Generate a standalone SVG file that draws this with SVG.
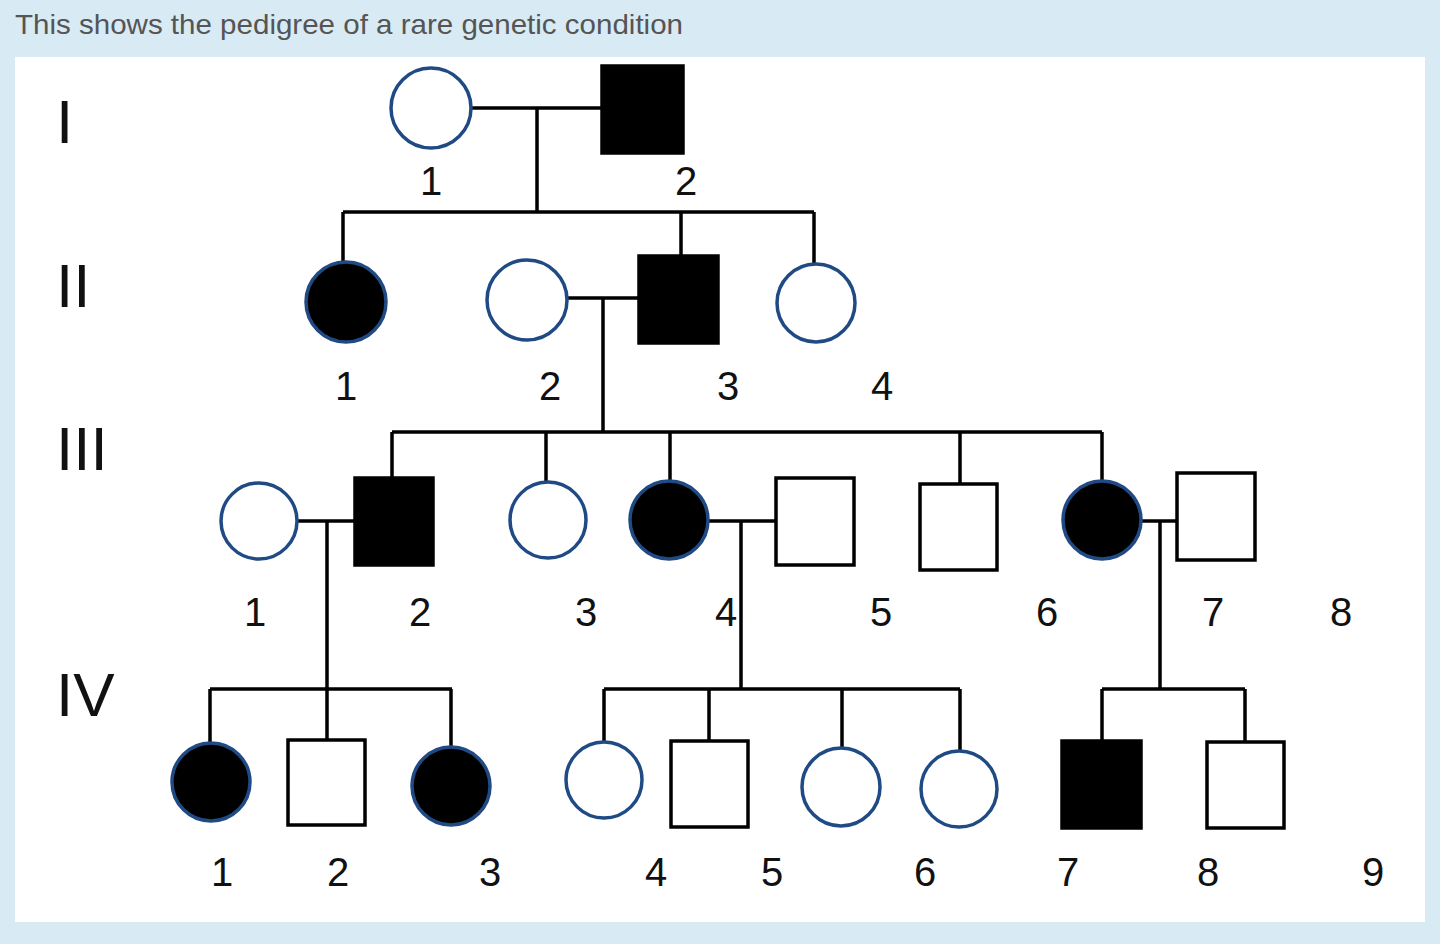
<svg xmlns="http://www.w3.org/2000/svg" width="1440" height="944" viewBox="0 0 1440 944">
<style>
.c{fill:#fff;stroke:#1f4a84;stroke-width:3.5}
.cf{fill:#000;stroke:#1f4a84;stroke-width:3.5}
.s{fill:#fff;stroke:#000;stroke-width:3.5}
.sf{fill:#000;stroke:#000;stroke-width:3.5}
.l{stroke:#000;stroke-width:3.5;fill:none}
text{font-family:"Liberation Sans",Arial,sans-serif}
.n{font-size:40px;text-anchor:middle;fill:#111}
.g{font-size:62px;fill:#111}
</style>
<rect width="1440" height="944" fill="#d8eaf4"/>
<rect x="15" y="57" width="1410" height="865" fill="#fff"/>
<text x="15" y="34" font-size="28" fill="#555" textLength="668" lengthAdjust="spacingAndGlyphs">This shows the pedigree of a rare genetic condition</text>
<text class="g" x="56" y="143">I</text>
<text class="g" x="56" y="307">II</text>
<text class="g" x="56" y="470">III</text>
<text class="g" x="56" y="716">IV</text>
<g id="connectors">
<path class="l" d="M471 108H602M537 108V212M343 212H814M343 212V262M681 212V256M814 212V264M567 298H639M603 298V432M392 432H1102M392 432V478M546 432V482M670 432V481M960 432V484M1102 432V481M297 521H355M327 521V689M708 521H776M741 521V689M1141 521H1177M1160 521V689M210 689H452M210 689V743M327 689V740M451 689V747M604 689H960M604 689V742M709 689V741M842 689V748M960 689V750M1102 689H1245M1102 689V741M1245 689V742"/>
</g>
<g id="I-1"><circle class="c" cx="431" cy="108" r="40"/><text class="n" x="431" y="195">1</text></g>
<g id="I-2"><rect class="sf" x="602" y="66" width="81" height="87"/><text class="n" x="686" y="195">2</text></g>
<g id="II-1"><circle class="cf" cx="346" cy="302" r="40"/><text class="n" x="346" y="400">1</text></g>
<g id="II-2"><circle class="c" cx="527" cy="300" r="40"/><text class="n" x="550" y="400">2</text></g>
<g id="II-3"><rect class="sf" x="639" y="256" width="79" height="87"/><text class="n" x="728" y="400">3</text></g>
<g id="II-4"><circle class="c" cx="816" cy="303" r="39"/><text class="n" x="882" y="400">4</text></g>
<g id="III-1"><circle class="c" cx="259" cy="521" r="38"/><text class="n" x="255" y="626">1</text></g>
<g id="III-2"><rect class="sf" x="355" y="478" width="78" height="87"/><text class="n" x="420" y="626">2</text></g>
<g id="III-3"><circle class="c" cx="548" cy="520" r="38"/><text class="n" x="586" y="626">3</text></g>
<g id="III-4"><circle class="cf" cx="669" cy="520" r="39"/><text class="n" x="726" y="626">4</text></g>
<g id="III-5"><rect class="s" x="776" y="478" width="78" height="87"/><text class="n" x="881" y="626">5</text></g>
<g id="III-6"><rect class="s" x="920" y="484" width="77" height="86"/><text class="n" x="1047" y="626">6</text></g>
<g id="III-7"><circle class="cf" cx="1102" cy="520" r="39"/><text class="n" x="1213" y="626">7</text></g>
<g id="III-8"><rect class="s" x="1177" y="473" width="78" height="87"/><text class="n" x="1341" y="626">8</text></g>
<g id="IV-1"><circle class="cf" cx="211" cy="782" r="39"/><text class="n" x="222" y="886">1</text></g>
<g id="IV-2"><rect class="s" x="288" y="740" width="77" height="85"/><text class="n" x="338" y="886">2</text></g>
<g id="IV-3"><circle class="cf" cx="451" cy="786" r="39"/><text class="n" x="490" y="886">3</text></g>
<g id="IV-4"><circle class="c" cx="604" cy="780" r="38"/><text class="n" x="656" y="886">4</text></g>
<g id="IV-5"><rect class="s" x="671" y="741" width="77" height="86"/><text class="n" x="772" y="886">5</text></g>
<g id="IV-6"><circle class="c" cx="841" cy="787" r="39"/><text class="n" x="925" y="886">6</text></g>
<g id="IV-7"><circle class="c" cx="959" cy="789" r="38"/><text class="n" x="1068" y="886">7</text></g>
<g id="IV-8"><rect class="sf" x="1062" y="741" width="79" height="87"/><text class="n" x="1208" y="886">8</text></g>
<g id="IV-9"><rect class="s" x="1207" y="742" width="77" height="86"/><text class="n" x="1373" y="886">9</text></g>
</svg>
